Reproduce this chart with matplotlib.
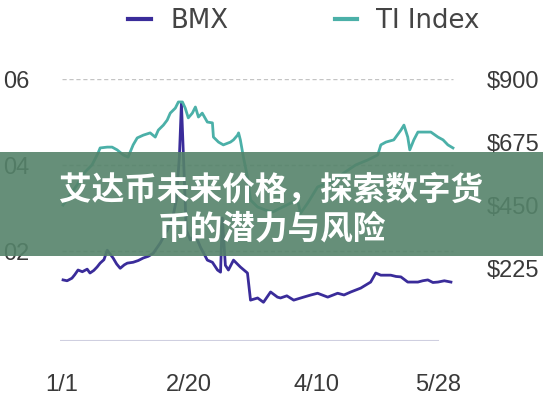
import matplotlib
matplotlib.use("Agg")
import matplotlib.pyplot as plt
from matplotlib.patches import Rectangle
import numpy as np

# ---- data (days since 1/1, values) ----
bmx_days = [0.4, 2.0, 3.9, 5.0, 6.3, 8.0, 9.9, 11.0, 12.5, 13.8, 15.0, 16.5, 17.8, 20.1, 21.5, 22.9,
            24.5, 25.7, 28.0, 30.0, 32.0, 34.0, 35.9, 38.7, 41.4, 43.8, 45.0, 46.2, 47.0, 47.8, 48.9,
            50.5, 52.5, 54.5, 57.2, 59.2, 61.2, 62.4, 63.1, 64.3, 65.5, 67.5, 70.2, 73.0, 74.2, 77.0,
            79.3, 82.1, 84.8, 86.0, 88.5, 91.2, 95.1, 98.0, 100.6, 104.6, 108.5, 111.0, 113.7, 117.6,
            121.5, 123.5, 125.5, 129.4, 131.5, 133.4, 136.1, 140.1, 142.0, 144.0, 146.0, 148.0, 150.5, 153.1]
bmx_vals = [0.0133, 0.0131, 0.0137, 0.0145, 0.0156, 0.0152, 0.0158, 0.0149, 0.0155, 0.0163, 0.0172, 0.0180,
            0.0202, 0.0184, 0.0170, 0.0160, 0.0168, 0.0172, 0.0174, 0.0178, 0.0184, 0.0188, 0.0195, 0.0219,
            0.0249, 0.0284, 0.0319, 0.0420, 0.0544, 0.0420, 0.0249, 0.0226, 0.0237, 0.0209, 0.0179, 0.0174,
            0.0156, 0.0151, 0.0277, 0.0167, 0.0156, 0.0179, 0.0163, 0.0149, 0.0086, 0.0091, 0.0081, 0.0105,
            0.0093, 0.0091, 0.0096, 0.0086, 0.0093, 0.0098, 0.0102, 0.0093, 0.0102, 0.0098, 0.0105, 0.0114,
            0.0128, 0.0149, 0.0144, 0.0144, 0.0141, 0.0140, 0.0128, 0.0128, 0.0131, 0.0133, 0.0127, 0.0128,
            0.0131, 0.0128]

ti_days = [0.4, 3.2, 5.9, 9.1, 11.8, 14.2, 15.0, 17.8, 19.7, 21.7, 24.1, 26.0, 28.0, 29.6, 32.0, 34.7,
           36.7, 37.9, 39.9, 41.4, 42.6, 44.6, 45.8, 47.4, 48.5, 49.7, 51.3, 52.5, 53.7, 55.2, 57.2,
           59.2, 59.6, 61.6, 63.5, 66.3, 67.5, 69.1, 69.5, 70.2, 71.4, 73.0, 74.2, 77.0, 80.1, 82.9,
           86.0, 90.0, 92.7, 93.9, 96.7, 100.6, 104.6, 107.7, 110.9, 115.6, 120.4, 124.3, 125.5, 127.5,
           130.6, 133.4, 134.6, 136.1, 136.9, 138.5, 140.1, 142.5, 145.2, 148.0, 150.0, 151.9, 153.9]
ti_vals = [451, 487, 523, 570, 595, 638, 656, 659, 659, 649, 631, 623, 667, 692, 702, 710,
           695, 720, 738, 756, 781, 799, 821, 821, 799, 764, 781, 803, 767, 781, 749,
           746, 695, 677, 667, 677, 685, 702, 710, 685, 623, 552, 469, 444, 433, 426,
           440, 458, 469, 422, 458, 516, 530, 541, 566, 595, 613, 631, 667, 677,
           685, 720, 738, 695, 649, 685, 713, 713, 713, 695, 685, 667, 656]

x_tick_days = [0, 50, 100, 148]
x_tick_labels = ["1/1", "2/20", "4/10", "5/28"]
left_ticks = [0.02, 0.04, 0.06]
left_labels = ["02", "04", "06"]
right_ticks = [225, 450, 675, 900]
right_labels = ["$225", "$450", "$675", "$900"]
series_names = ["BMX", "TI Index"]
title_lines = ["艾达币未来价格，探索数字货", "币的潜力与风险"]

# ---- figure ----
W, H = 543, 408
fig = plt.figure(figsize=(W / 100, H / 100), dpi=100)
fig.patch.set_facecolor("white")

ax_l, ax_r, ax_t, ax_b = 60, 455, 79, 341
ax = fig.add_axes([ax_l / W, 1 - ax_b / H, (ax_r - ax_l) / W, (ax_b - ax_t) / H])
ax2 = ax.twinx()

c_bmx = "#3A2C9A"
c_ti = "#4BB0A8"
tick_color = "#3a3a3a"
tick_font = "Liberation Sans"
fs = 17

ax.set_xlim(-0.8, 154.7)
ax.set_ylim(-0.0009, 0.06)
ax2.set_ylim(-37, 903.5)

# dashed gridlines
for v in left_ticks:
    ax.plot([0, 154], [v, v], color="#c4c4c4", lw=1.0, ls=(0, (3, 2)), zorder=1)
# baseline
ax.plot([-1, 148], [0, 0], color="#cfcfe0", lw=1.5, transform=ax.get_xaxis_transform(), zorder=1)

l1, = ax.plot(bmx_days, bmx_vals, color=c_bmx, lw=2.0, zorder=3, label=series_names[0])
l2, = ax2.plot(ti_days, ti_vals, color=c_ti, lw=2.0, zorder=3, label=series_names[1])

for a in (ax, ax2):
    for s in a.spines.values():
        s.set_visible(False)
    a.tick_params(length=0)

ax.set_xticks(x_tick_days)
ax.set_xticklabels(x_tick_labels, fontsize=fs, color=tick_color, family=tick_font)
ax.tick_params(axis="x", pad=24)
ax.set_yticks(left_ticks)
ax.set_yticklabels(left_labels, fontsize=fs, color=tick_color, family=tick_font)
ax.tick_params(axis="y", pad=22)
ax2.set_yticks(right_ticks)
ax2.set_yticklabels(right_labels, fontsize=fs, color=tick_color, family=tick_font)
ax2.tick_params(axis="y", pad=23)

leg = fig.legend(handles=[l1, l2], loc="center", bbox_to_anchor=(304 / W, 1 - 21 / H),
                 ncol=2, frameon=False, fontsize=18.7, handlelength=0.85,
                 handletextpad=0.75, columnspacing=4.1)
for t in leg.get_texts():
    t.set_color("#444444")
for h in leg.get_lines():
    h.set_linewidth(3.0)

# banner
banner_top, banner_bot = 152, 256
fig.add_artist(Rectangle((0, 1 - banner_bot / H), 1, (banner_bot - banner_top) / H,
                         transform=fig.transFigure, facecolor="#55836a", alpha=0.9,
                         edgecolor="none", zorder=5))
cjk = ["Noto Sans CJK SC", "DejaVu Sans"]
fig.text(0.5, 1 - 190 / H, title_lines[0], ha="center", va="center", color="white",
         fontsize=23.5, fontweight="bold", family=cjk, zorder=6)
fig.text(0.5, 1 - 229 / H, title_lines[1], ha="center", va="center", color="white",
         fontsize=23.5, fontweight="bold", family=cjk, zorder=6)

fig.savefig("out.png", dpi=100)
